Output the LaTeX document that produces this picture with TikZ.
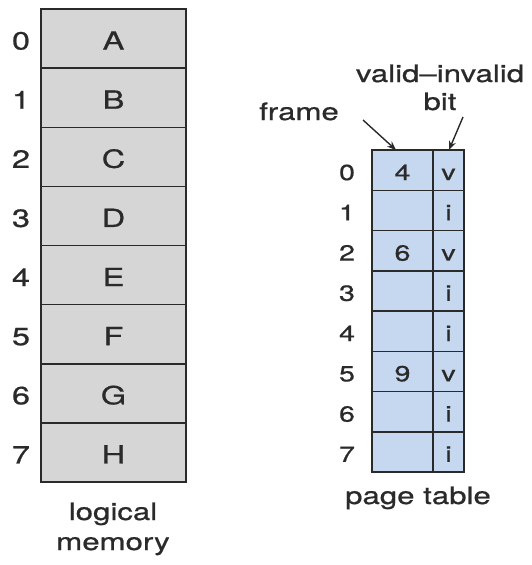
\documentclass[tikz,border=0pt]{standalone}
\usepackage{graphicx}
\usepackage{fontspec}
\setmainfont{TeX Gyre Heros}[FakeBold=0.6]
\usetikzlibrary{arrows.meta}
\definecolor{memgray}{HTML}{D6D6D6}
\definecolor{ptblue}{HTML}{C6D8F0}
\definecolor{ink}{HTML}{2A2A2A}
\newcommand{\wx}[1]{\scalebox{1.3}[1]{#1}}
\begin{document}
\begin{tikzpicture}[x=1pt,y=-1pt,text=ink,
  memcell/.style={draw=ink,line width=1.5pt,fill=memgray,minimum width=145pt,
    minimum height=59.125pt,inner sep=0pt,outer sep=0pt,
    font=\fontsize{25}{30}\selectfont,text height=22pt,text depth=0pt},
  memidx/.style={inner sep=0pt,font=\fontsize{25}{30}\selectfont,text height=22pt,text depth=0pt},
  frcell/.style={draw=ink,line width=1.5pt,fill=ptblue,minimum width=61pt,
    minimum height=40.25pt,inner sep=0pt,outer sep=0pt,
    font=\fontsize{22}{25}\selectfont,text height=20pt,text depth=0pt},
  bitcell/.style={frcell,minimum width=31pt},
  ptidx/.style={inner sep=0pt,font=\fontsize{22}{25}\selectfont,text height=20pt,text depth=0pt},
  lbl/.style={inner sep=0pt,anchor=base,font=\fontsize{24}{30}\selectfont},
  arr/.style={draw=ink,line width=1.4pt,-{Stealth[length=9pt,width=7pt]}}]
\useasboundingbox (0,0) rectangle (532,565);
% logical memory
\foreach \t [count=\i from 0] in {A,B,C,D,E,F,G,H} {
  \node[memcell] (m\i) at (113.5,{9+59.125*(\i+0.5)}) {\wx{\t}};
  \node[memidx] (mi\i) at (21,{9+59.125*(\i+0.5)}) {\wx{\i}};
}
\node[lbl] (lm1) at (113,520) {\wx{logical}};
\node[lbl] (lm2) at (113,550) {\wx{memory}};
% page table
\foreach \f/\b [count=\i from 0] in {4/v,{}/i,6/v,{}/i,{}/i,9/v,{}/i,{}/i} {
  \node[frcell] (f\i) at (402.5,{150+40.25*(\i+0.5)}) {\wx{\f}};
  \node[bitcell] (b\i) at (448.5,{150+40.25*(\i+0.5)}) {\wx{\b}};
  \node[ptidx] (pi\i) at (347,{150+40.25*(\i+0.5)}) {\wx{\i}};
}
\node[lbl] (pt) at (418,504) {\wx{page table}};
\node[lbl] (vi) at (440,82) {\wx{valid–invalid}};
\node[lbl] (bit) at (440,110) {\wx{bit}};
\node[lbl] (fr) at (299,120) {\wx{frame}};
\coordinate (frs) at (363,120);
\coordinate (fre) at (396,150);
\coordinate (bis) at (463,117);
\coordinate (bie) at (449,150);
\draw[arr] (frs) -- (fre);
\draw[arr] (bis) -- (bie);
\end{tikzpicture}
\end{document}
